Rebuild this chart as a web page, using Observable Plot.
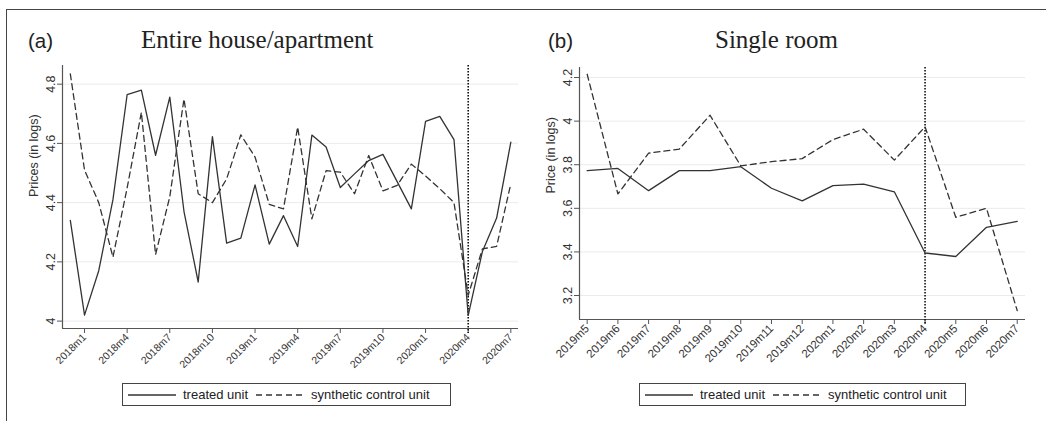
<!DOCTYPE html>
<html>
<head>
<meta charset="utf-8">
<script src="https://cdn.jsdelivr.net/npm/d3@7"></script>
<script src="https://cdn.jsdelivr.net/npm/@observablehq/plot@0.6"></script>
<style>
  html, body { margin: 0; padding: 0; background: #fff; }
  #page { position: relative; width: 1046px; height: 421px; overflow: hidden; font-family: "Liberation Sans", Arial, sans-serif; color: #222; }
  .edge-top { position: absolute; z-index: 5; left: 6px; top: 9px; width: 1040px; height: 0; border-top: 1.5px solid #444; }
  .edge-left { position: absolute; z-index: 5; left: 6px; top: 9px; width: 0; height: 412px; border-left: 1.5px solid #444; }
  .tag { position: absolute; font-family: "Liberation Sans", Arial, sans-serif; font-size: 20.5px; line-height: 1; }
  .title { position: absolute; font-family: "Liberation Serif", "Times New Roman", serif; font-size: 25px; line-height: 1; white-space: nowrap; }
  .legend { position: absolute; height: 23px; border: 1px solid #444; display: flex; align-items: center; font-size: 13px; white-space: nowrap; box-sizing: border-box; }
  .legend svg { display: block; }
  .legend span { margin: 0 8px 0 7px; }
</style>
</head>
<body>
<div id="page">
  <div class="edge-top"></div>
  <div class="edge-left"></div>
</div>
<script>
// Monthly log prices, panel (a): entire house/apartment listings
const monthsA = ["2017m12","2018m1","2018m2","2018m3","2018m4","2018m5","2018m6","2018m7","2018m8","2018m9","2018m10","2018m11","2018m12",
  "2019m1","2019m2","2019m3","2019m4","2019m5","2019m6","2019m7","2019m8","2019m9","2019m10","2019m11","2019m12",
  "2020m1","2020m2","2020m3","2020m4","2020m5","2020m6","2020m7"];
const treatedA = [4.34, 4.02, 4.17, 4.41, 4.765, 4.78, 4.56, 4.756, 4.37, 4.132, 4.623, 4.263, 4.28,
  4.46, 4.26, 4.356, 4.252, 4.628, 4.588, 4.451, 4.497, 4.542, 4.563, 4.471, 4.379,
  4.674, 4.691, 4.613, 4.019, 4.235, 4.348, 4.604];
const syntheticA = [4.835, 4.51, 4.40, 4.216, 4.45, 4.705, 4.225, 4.42, 4.75, 4.43, 4.40, 4.48, 4.629,
  4.554, 4.394, 4.379, 4.655, 4.345, 4.508, 4.503, 4.43, 4.559, 4.44, 4.458, 4.53,
  4.49, 4.447, 4.40, 4.087, 4.244, 4.252, 4.464];
const xTicksA = ["2018m1","2018m4","2018m7","2018m10","2019m1","2019m4","2019m7","2019m10","2020m1","2020m4","2020m7"];
const yTicksA = [4, 4.2, 4.4, 4.6, 4.8];

// Panel (b): single room listings
const monthsB = ["2019m5","2019m6","2019m7","2019m8","2019m9","2019m10","2019m11","2019m12",
  "2020m1","2020m2","2020m3","2020m4","2020m5","2020m6","2020m7"];
const treatedB = [3.773, 3.783, 3.681, 3.773, 3.773, 3.791, 3.692, 3.634, 3.704, 3.711, 3.676, 3.395, 3.379, 3.513, 3.540];
const syntheticB = [4.215, 3.666, 3.853, 3.872, 4.027, 3.795, 3.814, 3.828, 3.915, 3.963, 3.821, 3.974, 3.559, 3.600, 3.131];
const xTicksB = monthsB;
const yTicksB = [3.2, 3.4, 3.6, 3.8, 4, 4.2];

const treatmentMonth = "2020m4";
const seriesNames = ["treated unit", "synthetic control unit"];

const ink = "#333";
const dash = "6,4";

function panel({months, treated, synthetic, xTicks, yTicks, xDomain, yDomain, yLabel,
                width, height, margins, xFont, yFont}) {
  const rows = months.map((m, i) => ({i, m, treated: treated[i], synthetic: synthetic[i]}));
  const cut = months.indexOf(treatmentMonth);
  return Plot.plot({
    width, height,
    marginLeft: margins[0], marginRight: margins[1], marginTop: margins[2], marginBottom: margins[3],
    style: {fontFamily: "'Liberation Sans', Arial, sans-serif", fontSize: "12px", color: "#333", background: "transparent"},
    x: {type: "linear", domain: xDomain, axis: null},
    y: {type: "linear", domain: yDomain, axis: null},
    marks: [
      Plot.ruleY(yTicks, {stroke: "#ebebeb", strokeWidth: 1}),
      Plot.axisY({ticks: yTicks, tickSize: 5, tickPadding: 3, tickRotate: -90, tickFormat: d => d3.format("")(d),
                  fontSize: yFont, stroke: "#555", fill: "#333", label: null}),
      Plot.axisX({ticks: xTicks.map(t => months.indexOf(t)), tickSize: 5, tickPadding: 2, tickRotate: -45,
                  tickFormat: i => months[i], fontSize: xFont, stroke: "#555", fill: "#333", label: null}),
      Plot.ruleX([xDomain[0]], {stroke: "#555", strokeWidth: 1.2}),
      Plot.ruleY([yDomain[0]], {stroke: "#555", strokeWidth: 1.2}),
      Plot.text([yLabel], {text: d => d, frameAnchor: "left", dx: -29, rotate: -90, fontSize: 12.5, fill: "#333"}),
      Plot.ruleX([cut], {stroke: "#111", strokeWidth: 1.6, strokeDasharray: "1.5,1.5", insetBottom: -5}),
      Plot.line(rows, {x: "i", y: "synthetic", stroke: ink, strokeWidth: 1.3, strokeDasharray: dash}),
      Plot.line(rows, {x: "i", y: "treated", stroke: ink, strokeWidth: 1.3})
    ]
  });
}

function legendBox(left, top, width) {
  const box = document.createElement("div");
  box.className = "legend";
  box.style.left = left + "px";
  box.style.top = top + "px";
  box.style.width = width + "px";
  const sample = (dashed) => {
    const s = d3.create("svg").attr("width", 48).attr("height", 10);
    s.append("line").attr("x1", 0).attr("x2", 48).attr("y1", 5).attr("y2", 5)
      .attr("stroke", ink).attr("stroke-width", 1.3)
      .attr("stroke-dasharray", dashed ? dash : null);
    return s.node();
  };
  const pad = document.createElement("div");
  pad.style.width = "5px";
  box.appendChild(pad);
  seriesNames.forEach((name, k) => {
    box.appendChild(sample(k === 1));
    const t = document.createElement("span");
    t.textContent = name;
    box.appendChild(t);
  });
  return box;
}

function place(node, left, top) {
  node.style.position = "absolute";
  node.style.left = left + "px";
  node.style.top = top + "px";
  return node;
}

const page = document.getElementById("page");

const plotA = panel({
  months: monthsA, treated: treatedA, synthetic: syntheticA, xTicks: xTicksA, yTicks: yTicksA,
  xDomain: [-0.55, 31.54], yDomain: [3.975, 4.863], yLabel: "Prices (in logs)",
  width: 518, height: 380, margins: [54, 8, 65, 52], xFont: 10.5, yFont: 12.5
});
page.appendChild(place(plotA, 8, 0));

const plotB = panel({
  months: monthsB, treated: treatedB, synthetic: syntheticB, xTicks: xTicksB, yTicks: yTicksB,
  xDomain: [-0.25, 14.27], yDomain: [3.09, 4.246], yLabel: "Price (in logs)",
  width: 526, height: 380, margins: [59, 21, 67, 61], xFont: 11.5, yFont: 12.5
});
page.appendChild(place(plotB, 520, 0));

// Panel tags and titles
const addText = (cls, text, left, top) => {
  const d = document.createElement("div");
  d.className = cls;
  d.textContent = text;
  d.style.left = left + "px";
  d.style.top = top + "px";
  page.appendChild(d);
};
addText("tag", "(a)", 28, 31);
addText("title", "Entire house/apartment", 141, 27);
addText("tag", "(b)", 548, 31);
addText("title", "Single room", 715, 27);

page.appendChild(legendBox(122, 383, 329));
page.appendChild(legendBox(639, 383, 327));
</script>
</body>
</html>
